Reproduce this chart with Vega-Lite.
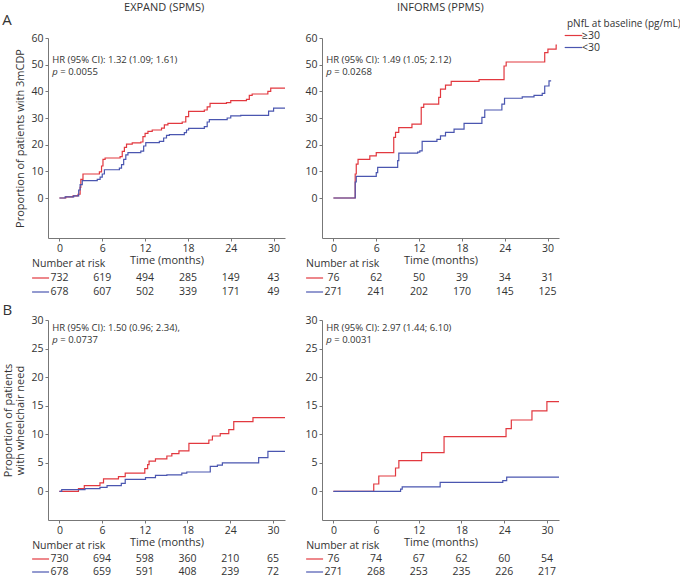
{
"$schema": "https://vega.github.io/schema/vega-lite/v6.json",
"padding": {"left": 2, "top": 2, "right": 0, "bottom": 0},
"datasets": {
"a1": [
{"group":"≥30","t":0,"v":0},{"group":"≥30","t":0.9,"v":0.4},{"group":"≥30","t":1.9,"v":0.8},{"group":"≥30","t":2.6,"v":1.4},{"group":"≥30","t":2.9,"v":4},{"group":"≥30","t":3.0,"v":7},{"group":"≥30","t":3.3,"v":9},{"group":"≥30","t":5.6,"v":9.8},{"group":"≥30","t":5.9,"v":12},{"group":"≥30","t":6.1,"v":14.5},{"group":"≥30","t":6.4,"v":15},{"group":"≥30","t":8.5,"v":15.5},{"group":"≥30","t":8.8,"v":17.5},{"group":"≥30","t":9.1,"v":19},{"group":"≥30","t":9.4,"v":20.2},{"group":"≥30","t":10.2,"v":20.7},{"group":"≥30","t":11.4,"v":21},{"group":"≥30","t":11.7,"v":23},{"group":"≥30","t":12.0,"v":24.2},{"group":"≥30","t":12.4,"v":25},{"group":"≥30","t":13.0,"v":25.5},{"group":"≥30","t":14.3,"v":26.2},{"group":"≥30","t":14.7,"v":27.4},{"group":"≥30","t":15.2,"v":28},{"group":"≥30","t":17.2,"v":28.5},{"group":"≥30","t":17.7,"v":30.5},{"group":"≥30","t":18.1,"v":32.5},{"group":"≥30","t":20.3,"v":33},{"group":"≥30","t":20.7,"v":34.2},{"group":"≥30","t":21.1,"v":35.5},{"group":"≥30","t":23.4,"v":35.8},{"group":"≥30","t":24.0,"v":36.5},{"group":"≥30","t":26.2,"v":37},{"group":"≥30","t":26.6,"v":38.5},{"group":"≥30","t":27.0,"v":39},{"group":"≥30","t":29.2,"v":40},{"group":"≥30","t":29.6,"v":41.2},{"group":"≥30","t":31.6,"v":41.2},
{"group":"<30","t":0,"v":0},{"group":"<30","t":0.8,"v":0.4},{"group":"<30","t":2.0,"v":0.8},{"group":"<30","t":2.7,"v":3},{"group":"<30","t":2.9,"v":5},{"group":"<30","t":3.2,"v":6.5},{"group":"<30","t":5.3,"v":7},{"group":"<30","t":5.7,"v":7.8},{"group":"<30","t":6.0,"v":9},{"group":"<30","t":6.3,"v":10.6},{"group":"<30","t":8.4,"v":11.2},{"group":"<30","t":8.7,"v":12.5},{"group":"<30","t":9.0,"v":14.5},{"group":"<30","t":9.3,"v":16.2},{"group":"<30","t":9.6,"v":17},{"group":"<30","t":11.4,"v":17.6},{"group":"<30","t":11.8,"v":19.5},{"group":"<30","t":12.1,"v":20.8},{"group":"<30","t":14.0,"v":21.2},{"group":"<30","t":14.6,"v":22.5},{"group":"<30","t":15.0,"v":23.5},{"group":"<30","t":15.4,"v":23.8},{"group":"<30","t":17.5,"v":24.5},{"group":"<30","t":17.8,"v":25.5},{"group":"<30","t":18.1,"v":26.1},{"group":"<30","t":20.3,"v":26.8},{"group":"<30","t":20.7,"v":28.5},{"group":"<30","t":21.0,"v":29.4},{"group":"<30","t":23.5,"v":30},{"group":"<30","t":24.0,"v":30.8},{"group":"<30","t":25.4,"v":31},{"group":"<30","t":29.3,"v":32.6},{"group":"<30","t":30.0,"v":33.7},{"group":"<30","t":31.6,"v":33.7}
],
"a2": [
{"group":"≥30","t":0,"v":0},{"group":"≥30","t":2.95,"v":0},{"group":"≥30","t":3.05,"v":9},{"group":"≥30","t":3.2,"v":12.7},{"group":"≥30","t":3.45,"v":14.5},{"group":"≥30","t":5.1,"v":15.8},{"group":"≥30","t":6.0,"v":17},{"group":"≥30","t":8.45,"v":22.7},{"group":"≥30","t":8.7,"v":24.6},{"group":"≥30","t":9.15,"v":26.4},{"group":"≥30","t":11.0,"v":27.7},{"group":"≥30","t":12.3,"v":34},{"group":"≥30","t":12.65,"v":35.2},{"group":"≥30","t":14.75,"v":37.7},{"group":"≥30","t":15.0,"v":40.8},{"group":"≥30","t":15.7,"v":42.3},{"group":"≥30","t":16.5,"v":43.7},{"group":"≥30","t":20.4,"v":44.4},{"group":"≥30","t":23.9,"v":49.5},{"group":"≥30","t":24.2,"v":51},{"group":"≥30","t":29.6,"v":54.5},{"group":"≥30","t":30.05,"v":55.8},{"group":"≥30","t":31.2,"v":57.3},{"group":"≥30","t":31.3,"v":57.3},
{"group":"<30","t":0,"v":0},{"group":"<30","t":2.95,"v":0},{"group":"<30","t":3.05,"v":6},{"group":"<30","t":3.2,"v":8.1},{"group":"<30","t":6.0,"v":9.5},{"group":"<30","t":6.2,"v":11.5},{"group":"<30","t":9.0,"v":14},{"group":"<30","t":9.16,"v":16.8},{"group":"<30","t":11.8,"v":17.2},{"group":"<30","t":12.1,"v":17.7},{"group":"<30","t":12.43,"v":21.2},{"group":"<30","t":14.5,"v":22},{"group":"<30","t":15.0,"v":23.3},{"group":"<30","t":15.7,"v":24.6},{"group":"<30","t":16.9,"v":25.8},{"group":"<30","t":18.3,"v":28},{"group":"<30","t":20.8,"v":30.2},{"group":"<30","t":21.2,"v":33},{"group":"<30","t":23.6,"v":35.2},{"group":"<30","t":23.97,"v":37.4},{"group":"<30","t":26.45,"v":37.9},{"group":"<30","t":28.1,"v":38.5},{"group":"<30","t":29.25,"v":39.2},{"group":"<30","t":29.6,"v":42},{"group":"<30","t":30.2,"v":43.9},{"group":"<30","t":30.5,"v":43.9}
],
"b1": [
{"group":"≥30","t":0,"v":0},{"group":"≥30","t":2.68,"v":0.5},{"group":"≥30","t":3.5,"v":1.0},{"group":"≥30","t":5.7,"v":1.5},{"group":"≥30","t":6.2,"v":2.2},{"group":"≥30","t":8.3,"v":2.6},{"group":"≥30","t":9.25,"v":3.2},{"group":"≥30","t":12.0,"v":4.0},{"group":"≥30","t":12.4,"v":4.7},{"group":"≥30","t":12.6,"v":5.3},{"group":"≥30","t":13.5,"v":5.7},{"group":"≥30","t":15.1,"v":6.2},{"group":"≥30","t":15.8,"v":6.6},{"group":"≥30","t":16.8,"v":7.1},{"group":"≥30","t":18.2,"v":8.4},{"group":"≥30","t":21.0,"v":9.0},{"group":"≥30","t":21.5,"v":9.7},{"group":"≥30","t":22.6,"v":10.1},{"group":"≥30","t":23.8,"v":10.8},{"group":"≥30","t":24.5,"v":12.2},{"group":"≥30","t":27.2,"v":12.9},{"group":"≥30","t":31.7,"v":12.9},
{"group":"<30","t":0,"v":0},{"group":"<30","t":0.33,"v":0.3},{"group":"<30","t":3.6,"v":0.5},{"group":"<30","t":5.7,"v":0.7},{"group":"<30","t":6.7,"v":1.0},{"group":"<30","t":8.7,"v":1.4},{"group":"<30","t":9.25,"v":2.1},{"group":"<30","t":12.1,"v":2.4},{"group":"<30","t":13.5,"v":2.8},{"group":"<30","t":15.1,"v":2.9},{"group":"<30","t":17.2,"v":3.2},{"group":"<30","t":17.9,"v":3.4},{"group":"<30","t":21.2,"v":4.4},{"group":"<30","t":22.2,"v":4.6},{"group":"<30","t":22.9,"v":5.0},{"group":"<30","t":28.0,"v":5.9},{"group":"<30","t":29.3,"v":7.0},{"group":"<30","t":31.7,"v":7.0}
],
"b2": [
{"group":"≥30","t":0,"v":0},{"group":"≥30","t":5.67,"v":1.3},{"group":"≥30","t":6.38,"v":2.7},{"group":"≥30","t":8.73,"v":4.1},{"group":"≥30","t":9.2,"v":5.4},{"group":"≥30","t":12.4,"v":6.8},{"group":"≥30","t":15.55,"v":9.6},{"group":"≥30","t":24.26,"v":11.0},{"group":"≥30","t":25.0,"v":12.5},{"group":"≥30","t":27.9,"v":14.1},{"group":"≥30","t":30.0,"v":15.7},{"group":"≥30","t":31.7,"v":15.7},
{"group":"<30","t":0,"v":0},{"group":"<30","t":9.44,"v":0.4},{"group":"<30","t":9.67,"v":0.8},{"group":"<30","t":15.0,"v":1.6},{"group":"<30","t":23.8,"v":1.9},{"group":"<30","t":24.35,"v":2.5},{"group":"<30","t":31.7,"v":2.5}
],
"risk": [
{"panel":"A1","group":"≥30","t":0,"n":732},{"panel":"A1","group":"≥30","t":6,"n":619},{"panel":"A1","group":"≥30","t":12,"n":494},{"panel":"A1","group":"≥30","t":18,"n":285},{"panel":"A1","group":"≥30","t":24,"n":149},{"panel":"A1","group":"≥30","t":30,"n":43},
{"panel":"A1","group":"<30","t":0,"n":678},{"panel":"A1","group":"<30","t":6,"n":607},{"panel":"A1","group":"<30","t":12,"n":502},{"panel":"A1","group":"<30","t":18,"n":339},{"panel":"A1","group":"<30","t":24,"n":171},{"panel":"A1","group":"<30","t":30,"n":49},
{"panel":"A2","group":"≥30","t":0,"n":76},{"panel":"A2","group":"≥30","t":6,"n":62},{"panel":"A2","group":"≥30","t":12,"n":50},{"panel":"A2","group":"≥30","t":18,"n":39},{"panel":"A2","group":"≥30","t":24,"n":34},{"panel":"A2","group":"≥30","t":30,"n":31},
{"panel":"A2","group":"<30","t":0,"n":271},{"panel":"A2","group":"<30","t":6,"n":241},{"panel":"A2","group":"<30","t":12,"n":202},{"panel":"A2","group":"<30","t":18,"n":170},{"panel":"A2","group":"<30","t":24,"n":145},{"panel":"A2","group":"<30","t":30,"n":125},
{"panel":"B1","group":"≥30","t":0,"n":730},{"panel":"B1","group":"≥30","t":6,"n":694},{"panel":"B1","group":"≥30","t":12,"n":598},{"panel":"B1","group":"≥30","t":18,"n":360},{"panel":"B1","group":"≥30","t":24,"n":210},{"panel":"B1","group":"≥30","t":30,"n":65},
{"panel":"B1","group":"<30","t":0,"n":678},{"panel":"B1","group":"<30","t":6,"n":659},{"panel":"B1","group":"<30","t":12,"n":591},{"panel":"B1","group":"<30","t":18,"n":408},{"panel":"B1","group":"<30","t":24,"n":239},{"panel":"B1","group":"<30","t":30,"n":72},
{"panel":"B2","group":"≥30","t":0,"n":76},{"panel":"B2","group":"≥30","t":6,"n":74},{"panel":"B2","group":"≥30","t":12,"n":67},{"panel":"B2","group":"≥30","t":18,"n":62},{"panel":"B2","group":"≥30","t":24,"n":60},{"panel":"B2","group":"≥30","t":30,"n":54},
{"panel":"B2","group":"<30","t":0,"n":271},{"panel":"B2","group":"<30","t":6,"n":268},{"panel":"B2","group":"<30","t":12,"n":253},{"panel":"B2","group":"<30","t":18,"n":235},{"panel":"B2","group":"<30","t":24,"n":226},{"panel":"B2","group":"<30","t":30,"n":217}
]
},
"vconcat": [
{"hconcat": [
{"width": 237, "height": 200,
 "layer": [
   {"data": {"name": "a1"}, "mark": {"type": "line", "interpolate": "step-after", "strokeWidth": 1.2},
    "encoding": {
     "x": {"field": "t", "type": "quantitative", "title": "Time (months)", "scale": {"domain": [-1.6, 31.6], "nice": false, "zero": false}, "axis": {"values": [0, 6, 12, 18, 24, 30]}},
     "y": {"field": "v", "type": "quantitative", "title": "Proportion of patients with 3mCDP", "scale": {"domain": [-15, 60], "nice": false, "zero": false}, "axis": {"values": [0, 10, 20, 30, 40, 50, 60]}},
     "color": {"field": "group", "type": "nominal", "title": "pNfL at baseline (pg/mL)", "scale": {"domain": ["≥30", "<30"], "range": ["#e2383f", "#4a56b0"]}, "legend": {"orient": "none", "legendX": 519, "legendY": -19}}}},
   {"data": {"values": [{"txt": "HR (95% CI): 1.32 (1.09; 1.61)"}]}, "mark": {"type": "text", "align": "left", "baseline": "middle", "fontSize": 9.5}, "encoding": {"x": {"datum": -1.0}, "y": {"datum": 51.7, "scale": {"domain": [-15, 60], "nice": false, "zero": false}, "axis": null}, "text": {"field": "txt"}}},
   {"data": {"values": [{"txt": "p"}]}, "mark": {"type": "text", "align": "left", "baseline": "middle", "fontStyle": "italic", "fontSize": 9.5}, "encoding": {"x": {"datum": -1.0}, "y": {"datum": 47.2, "scale": {"domain": [-15, 60], "nice": false, "zero": false}, "axis": null}, "text": {"field": "txt"}}},
   {"data": {"values": [{"txt": "= 0.0055"}]}, "mark": {"type": "text", "align": "left", "baseline": "middle", "dx": 8, "fontSize": 9.5}, "encoding": {"x": {"datum": -1.0}, "y": {"datum": 47.2, "scale": {"domain": [-15, 60], "nice": false, "zero": false}, "axis": null}, "text": {"field": "txt"}}},
   {"data": {"values": [{"txt": "A"}]}, "mark": {"type": "text", "align": "left", "baseline": "middle", "fontSize": 15}, "encoding": {"x": {"datum": -8.0}, "y": {"datum": 66.6, "scale": {"domain": [-15, 60], "nice": false, "zero": false}, "axis": null}, "text": {"field": "txt"}}},
   {"data": {"values": [{"txt": "EXPAND (SPMS)"}]}, "mark": {"type": "text", "align": "left", "baseline": "middle", "fontSize": 11}, "encoding": {"x": {"datum": 9.05}, "y": {"datum": 71.2, "scale": {"domain": [-15, 60], "nice": false, "zero": false}, "axis": null}, "text": {"field": "txt"}}},
   {"data": {"values": [{"group": "hdr", "txt": "Number at risk"}]}, "mark": {"type": "text", "align": "left", "baseline": "middle"}, "encoding": {"x": {"datum": -3.83}, "y": {"field": "group", "type": "nominal", "scale": {"type": "point", "padding": 0, "domain": ["hdr", "≥30", "<30"], "range": [226, 254]}, "axis": null}, "text": {"field": "txt"}}},
   {"data": {"values": [{"group": "≥30"}, {"group": "<30"}]}, "mark": {"type": "rule", "strokeWidth": 1.2}, "encoding": {"x": {"datum": -3.83}, "x2": {"datum": -1.45}, "y": {"field": "group", "type": "nominal", "scale": {"type": "point", "padding": 0, "domain": ["hdr", "≥30", "<30"], "range": [226, 254]}, "axis": null}, "color": {"field": "group", "type": "nominal", "title": "pNfL at baseline (pg/mL)"}}},
   {"data": {"name": "risk"}, "transform": [{"filter": "datum.panel === 'A1'"}], "mark": {"type": "text", "baseline": "middle"}, "encoding": {"x": {"field": "t", "type": "quantitative", "title": "Time (months)"}, "y": {"field": "group", "type": "nominal", "scale": {"type": "point", "padding": 0, "domain": ["hdr", "≥30", "<30"], "range": [226, 254]}, "axis": null}, "text": {"field": "n"}}}
 ],
 "resolve": {"scale": {"y": "independent"}}
},
{"width": 237, "height": 200,
 "layer": [
   {"data": {"name": "a2"}, "mark": {"type": "line", "interpolate": "step-after", "strokeWidth": 1.2},
    "encoding": {
     "x": {"field": "t", "type": "quantitative", "title": "Time (months)", "scale": {"domain": [-1.6, 31.6], "nice": false, "zero": false}, "axis": {"values": [0, 6, 12, 18, 24, 30]}},
     "y": {"field": "v", "type": "quantitative", "title": null, "scale": {"domain": [-15, 60], "nice": false, "zero": false}, "axis": {"values": [0, 10, 20, 30, 40, 50, 60]}},
     "color": {"field": "group", "type": "nominal", "title": "pNfL at baseline (pg/mL)", "scale": {"domain": ["≥30", "<30"], "range": ["#e2383f", "#4a56b0"]}}}},
   {"data": {"values": [{"txt": "HR (95% CI): 1.49 (1.05; 2.12)"}]}, "mark": {"type": "text", "align": "left", "baseline": "middle", "fontSize": 9.5}, "encoding": {"x": {"datum": -1.0}, "y": {"datum": 51.7, "scale": {"domain": [-15, 60], "nice": false, "zero": false}, "axis": null}, "text": {"field": "txt"}}},
   {"data": {"values": [{"txt": "p"}]}, "mark": {"type": "text", "align": "left", "baseline": "middle", "fontStyle": "italic", "fontSize": 9.5}, "encoding": {"x": {"datum": -1.0}, "y": {"datum": 47.2, "scale": {"domain": [-15, 60], "nice": false, "zero": false}, "axis": null}, "text": {"field": "txt"}}},
   {"data": {"values": [{"txt": "= 0.0268"}]}, "mark": {"type": "text", "align": "left", "baseline": "middle", "dx": 8, "fontSize": 9.5}, "encoding": {"x": {"datum": -1.0}, "y": {"datum": 47.2, "scale": {"domain": [-15, 60], "nice": false, "zero": false}, "axis": null}, "text": {"field": "txt"}}},
   {"data": {"values": [{"txt": "INFORMS (PPMS)"}]}, "mark": {"type": "text", "align": "left", "baseline": "middle", "fontSize": 11}, "encoding": {"x": {"datum": 8.9}, "y": {"datum": 71.2, "scale": {"domain": [-15, 60], "nice": false, "zero": false}, "axis": null}, "text": {"field": "txt"}}},
   {"data": {"values": [{"group": "hdr", "txt": "Number at risk"}]}, "mark": {"type": "text", "align": "left", "baseline": "middle"}, "encoding": {"x": {"datum": -3.83}, "y": {"field": "group", "type": "nominal", "scale": {"type": "point", "padding": 0, "domain": ["hdr", "≥30", "<30"], "range": [226, 254]}, "axis": null}, "text": {"field": "txt"}}},
   {"data": {"values": [{"group": "≥30"}, {"group": "<30"}]}, "mark": {"type": "rule", "strokeWidth": 1.2}, "encoding": {"x": {"datum": -3.83}, "x2": {"datum": -1.45}, "y": {"field": "group", "type": "nominal", "scale": {"type": "point", "padding": 0, "domain": ["hdr", "≥30", "<30"], "range": [226, 254]}, "axis": null}, "color": {"field": "group", "type": "nominal", "title": "pNfL at baseline (pg/mL)"}}},
   {"data": {"name": "risk"}, "transform": [{"filter": "datum.panel === 'A2'"}], "mark": {"type": "text", "baseline": "middle"}, "encoding": {"x": {"field": "t", "type": "quantitative", "title": "Time (months)"}, "y": {"field": "group", "type": "nominal", "scale": {"type": "point", "padding": 0, "domain": ["hdr", "≥30", "<30"], "range": [226, 254]}, "axis": null}, "text": {"field": "n"}}}
 ],
 "resolve": {"scale": {"y": "independent"}}
}
], "spacing": 16},
{"hconcat": [
{"width": 237, "height": 200,
 "layer": [
   {"data": {"name": "b1"}, "mark": {"type": "line", "interpolate": "step-after", "strokeWidth": 1.2},
    "encoding": {
     "x": {"field": "t", "type": "quantitative", "title": "Time (months)", "scale": {"domain": [-1.6, 31.7], "nice": false, "zero": false}, "axis": {"values": [0, 6, 12, 18, 24, 30]}},
     "y": {"field": "v", "type": "quantitative", "title": ["Proportion of patients", "with wheelchair need"], "scale": {"domain": [-5, 30], "nice": false, "zero": false}, "axis": {"values": [0, 5, 10, 15, 20, 25, 30], "titleLineHeight": 12}},
     "color": {"field": "group", "type": "nominal", "title": "pNfL at baseline (pg/mL)", "scale": {"domain": ["≥30", "<30"], "range": ["#e2383f", "#4a56b0"]}}}},
   {"data": {"values": [{"txt": "HR (95% CI): 1.50 (0.96; 2.34),"}]}, "mark": {"type": "text", "align": "left", "baseline": "middle", "fontSize": 9.5}, "encoding": {"x": {"datum": -1.0}, "y": {"datum": 28.6, "scale": {"domain": [-5, 30], "nice": false, "zero": false}, "axis": null}, "text": {"field": "txt"}}},
   {"data": {"values": [{"txt": "p"}]}, "mark": {"type": "text", "align": "left", "baseline": "middle", "fontStyle": "italic", "fontSize": 9.5}, "encoding": {"x": {"datum": -1.0}, "y": {"datum": 26.5, "scale": {"domain": [-5, 30], "nice": false, "zero": false}, "axis": null}, "text": {"field": "txt"}}},
   {"data": {"values": [{"txt": "= 0.0737"}]}, "mark": {"type": "text", "align": "left", "baseline": "middle", "dx": 8, "fontSize": 9.5}, "encoding": {"x": {"datum": -1.0}, "y": {"datum": 26.5, "scale": {"domain": [-5, 30], "nice": false, "zero": false}, "axis": null}, "text": {"field": "txt"}}},
   {"data": {"values": [{"txt": "B"}]}, "mark": {"type": "text", "align": "left", "baseline": "middle", "fontSize": 15}, "encoding": {"x": {"datum": -8.0}, "y": {"datum": 31.8, "scale": {"domain": [-5, 30], "nice": false, "zero": false}, "axis": null}, "text": {"field": "txt"}}},
   {"data": {"values": [{"group": "hdr", "txt": "Number at risk"}]}, "mark": {"type": "text", "align": "left", "baseline": "middle"}, "encoding": {"x": {"datum": -3.83}, "y": {"field": "group", "type": "nominal", "scale": {"type": "point", "padding": 0, "domain": ["hdr", "≥30", "<30"], "range": [226, 252]}, "axis": null}, "text": {"field": "txt"}}},
   {"data": {"values": [{"group": "≥30"}, {"group": "<30"}]}, "mark": {"type": "rule", "strokeWidth": 1.2}, "encoding": {"x": {"datum": -3.83}, "x2": {"datum": -1.45}, "y": {"field": "group", "type": "nominal", "scale": {"type": "point", "padding": 0, "domain": ["hdr", "≥30", "<30"], "range": [226, 252]}, "axis": null}, "color": {"field": "group", "type": "nominal", "title": "pNfL at baseline (pg/mL)"}}},
   {"data": {"name": "risk"}, "transform": [{"filter": "datum.panel === 'B1'"}], "mark": {"type": "text", "baseline": "middle"}, "encoding": {"x": {"field": "t", "type": "quantitative", "title": "Time (months)"}, "y": {"field": "group", "type": "nominal", "scale": {"type": "point", "padding": 0, "domain": ["hdr", "≥30", "<30"], "range": [226, 252]}, "axis": null}, "text": {"field": "n"}}}
 ],
 "resolve": {"scale": {"y": "independent"}}
},
{"width": 237, "height": 200,
 "layer": [
   {"data": {"name": "b2"}, "mark": {"type": "line", "interpolate": "step-after", "strokeWidth": 1.2},
    "encoding": {
     "x": {"field": "t", "type": "quantitative", "title": "Time (months)", "scale": {"domain": [-1.6, 31.7], "nice": false, "zero": false}, "axis": {"values": [0, 6, 12, 18, 24, 30]}},
     "y": {"field": "v", "type": "quantitative", "title": null, "scale": {"domain": [-5, 30], "nice": false, "zero": false}, "axis": {"values": [0, 5, 10, 15, 20, 25, 30]}},
     "color": {"field": "group", "type": "nominal", "title": "pNfL at baseline (pg/mL)", "scale": {"domain": ["≥30", "<30"], "range": ["#e2383f", "#4a56b0"]}}}},
   {"data": {"values": [{"txt": "HR (95% CI): 2.97 (1.44; 6.10)"}]}, "mark": {"type": "text", "align": "left", "baseline": "middle", "fontSize": 9.5}, "encoding": {"x": {"datum": -1.0}, "y": {"datum": 28.6, "scale": {"domain": [-5, 30], "nice": false, "zero": false}, "axis": null}, "text": {"field": "txt"}}},
   {"data": {"values": [{"txt": "p"}]}, "mark": {"type": "text", "align": "left", "baseline": "middle", "fontStyle": "italic", "fontSize": 9.5}, "encoding": {"x": {"datum": -1.0}, "y": {"datum": 26.5, "scale": {"domain": [-5, 30], "nice": false, "zero": false}, "axis": null}, "text": {"field": "txt"}}},
   {"data": {"values": [{"txt": "= 0.0031"}]}, "mark": {"type": "text", "align": "left", "baseline": "middle", "dx": 8, "fontSize": 9.5}, "encoding": {"x": {"datum": -1.0}, "y": {"datum": 26.5, "scale": {"domain": [-5, 30], "nice": false, "zero": false}, "axis": null}, "text": {"field": "txt"}}},
   {"data": {"values": [{"group": "hdr", "txt": "Number at risk"}]}, "mark": {"type": "text", "align": "left", "baseline": "middle"}, "encoding": {"x": {"datum": -3.83}, "y": {"field": "group", "type": "nominal", "scale": {"type": "point", "padding": 0, "domain": ["hdr", "≥30", "<30"], "range": [226, 252]}, "axis": null}, "text": {"field": "txt"}}},
   {"data": {"values": [{"group": "≥30"}, {"group": "<30"}]}, "mark": {"type": "rule", "strokeWidth": 1.2}, "encoding": {"x": {"datum": -3.83}, "x2": {"datum": -1.45}, "y": {"field": "group", "type": "nominal", "scale": {"type": "point", "padding": 0, "domain": ["hdr", "≥30", "<30"], "range": [226, 252]}, "axis": null}, "color": {"field": "group", "type": "nominal", "title": "pNfL at baseline (pg/mL)"}}},
   {"data": {"name": "risk"}, "transform": [{"filter": "datum.panel === 'B2'"}], "mark": {"type": "text", "baseline": "middle"}, "encoding": {"x": {"field": "t", "type": "quantitative", "title": "Time (months)"}, "y": {"field": "group", "type": "nominal", "scale": {"type": "point", "padding": 0, "domain": ["hdr", "≥30", "<30"], "range": [226, 252]}, "axis": null}, "text": {"field": "n"}}}
 ],
 "resolve": {"scale": {"y": "independent"}}
}
], "spacing": 16}
],
"spacing": 4,
"config": {
 "font": "Open Sans",
 "view": {"stroke": null},
 "axis": {"grid": false, "domainColor": "#777", "tickColor": "#777", "tickSize": 3, "labelFontSize": 10.5, "labelColor": "#333", "titleFontSize": 11, "titleFontWeight": "normal", "titleColor": "#333", "labelPadding": 2},
 "axisX": {"titlePadding": 1},
 "axisY": {"titlePadding": 5},
 "text": {"fontSize": 10.5, "color": "#333"},
 "legend": {"titleFontSize": 10, "titleFontWeight": "normal", "titleColor": "#333", "labelFontSize": 10.5, "labelColor": "#333", "symbolType": "M-1.6,0H1.6", "symbolSize": 121, "symbolStrokeWidth": 1.2, "symbolFillColor": "transparent", "rowPadding": 0, "titlePadding": 0, "labelOffset": 2}
}
}
